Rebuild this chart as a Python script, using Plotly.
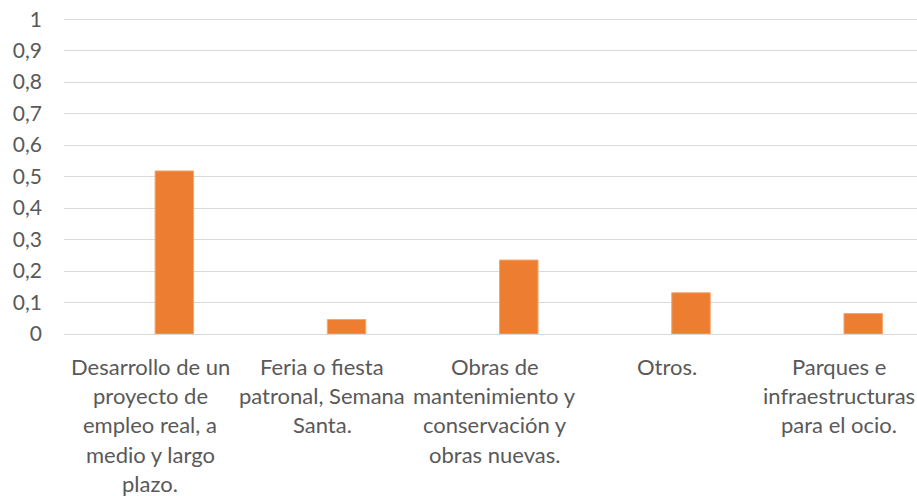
import plotly.graph_objects as go

# categories (line breaks as in the original axis labels)
categorias = [
    'Desarrollo de un<br>proyecto de<br>empleo real, a<br>medio y largo<br>plazo.',
    'Feria o fiesta<br>patronal, Semana<br>Santa.',
    'Obras de<br>mantenimiento y<br>conservación y<br>obras nuevas.',
    'Otros.',
    'Parques e<br>infraestructuras<br>para el ocio.',
]
valores = [0.518, 0.046, 0.235, 0.131, 0.065]
y_ticks = [0, 0.1, 0.2, 0.3, 0.4, 0.5, 0.6, 0.7, 0.8, 0.9, 1]
y_labels = ['0', '0,1', '0,2', '0,3', '0,4', '0,5', '0,6', '0,7', '0,8', '0,9', '1']

FONT = 'Lato'
GRIS = '#595959'
NARANJA = '#ED7D31'

W, H = 917, 496
M_L, M_T, M_B = 64, 16, 162

idx = list(range(len(categorias)))

fig = go.Figure(go.Bar(
    x=idx,
    y=valores,
    width=0.2235,
    offset=0.029,
    marker=dict(color=NARANJA, line=dict(color='#F4A772', width=1)),
))

# category labels drawn line by line (Excel-like line spacing)
annotations = []
line_h = 29.4
plot_h = H - M_T - M_B
for i, cat in enumerate(categorias):
    for j, linea in enumerate(cat.split('<br>')):
        annotations.append(dict(
            x=i, xref='x', y=-(32 + j * line_h) / plot_h, yref='paper',
            text=linea, showarrow=False, xanchor='center', yanchor='middle',
            font=dict(family=FONT, size=22, color=GRIS),
        ))

fig.update_layout(
    width=W, height=H,
    margin=dict(l=M_L, r=0, t=M_T, b=M_B),
    paper_bgcolor='white', plot_bgcolor='white',
    showlegend=False,
    font=dict(family=FONT, size=21, color=GRIS),
    annotations=annotations,
    xaxis=dict(range=[-0.5, 4.453], showticklabels=False, showgrid=False,
               zeroline=False, showline=False, fixedrange=True),
    # a bit of headroom so the gridline at 1 is not dropped at the edge
    yaxis=dict(range=[0, 1.01], tickvals=y_ticks, ticktext=y_labels,
               showgrid=True, gridcolor='#D9D9D9', gridwidth=1.3,
               zeroline=True, zerolinecolor='#D9D9D9', zerolinewidth=1.3,
               showline=False, ticks='', ticklabelstandoff=21,
               ticklabeloverflow='allow',
               tickfont=dict(family=FONT, size=21, color=GRIS)),
)

# drop the default 8px body margin so the page does not overflow the window
fig.write_html('out.html', config={'displayModeBar': False},
               post_script="document.body.style.margin='0';")
